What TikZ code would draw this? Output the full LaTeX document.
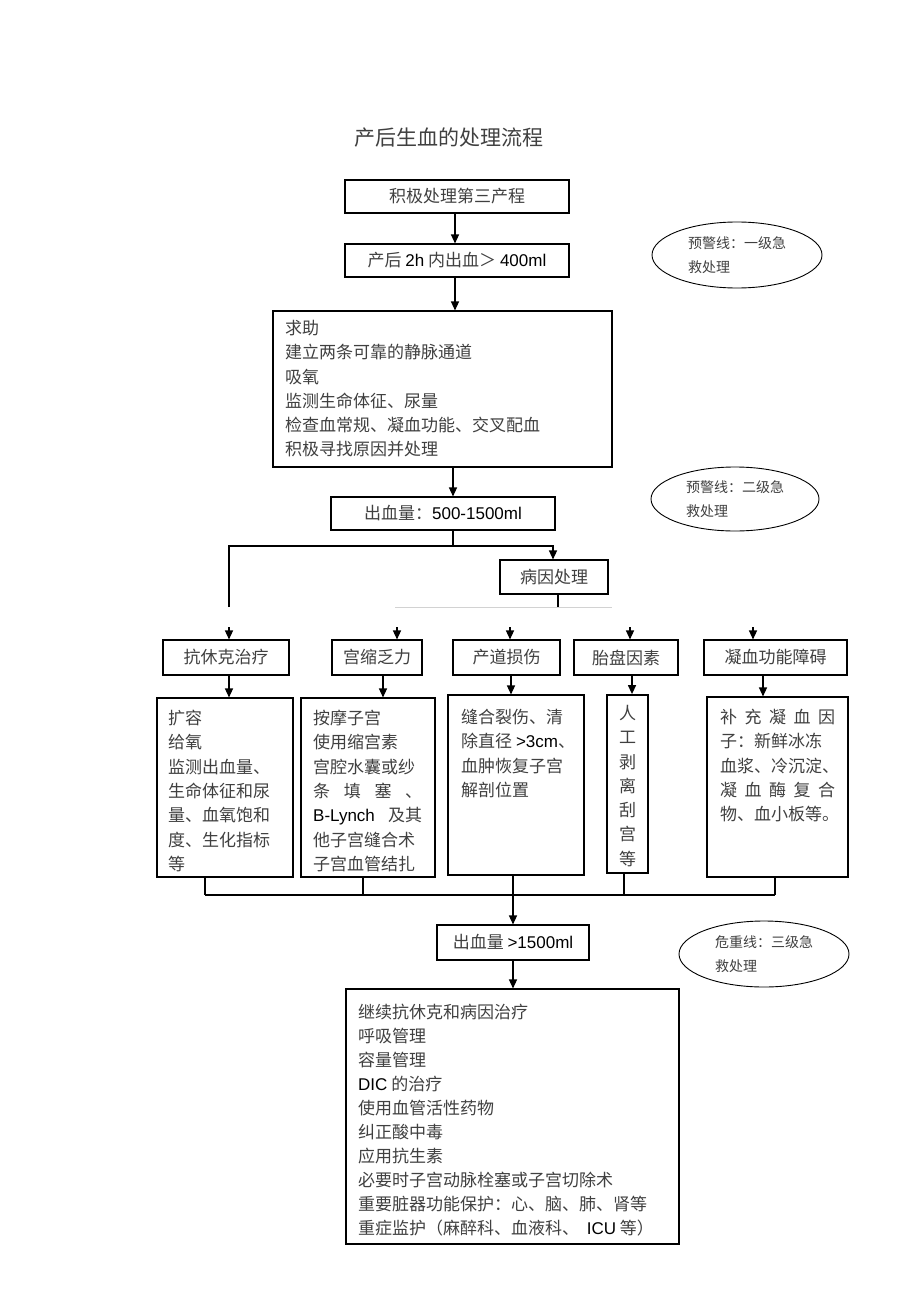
\documentclass[tikz,border=0pt]{standalone}
\usepackage{fontspec}
\setmainfont{Noto Sans CJK SC}
\newfontfamily\lat{Liberation Sans}
\usetikzlibrary{arrows.meta,shapes.geometric,calc}
\definecolor{txt}{HTML}{404040}
\newcommand{\La}[1]{{\lat\color{black}#1}}
\begin{document}
\begin{tikzpicture}[x=1pt,y=1pt,
  box/.style={draw=black, line width=1.1pt, inner sep=0pt, text=txt, font=\fontsize{17}{24}\selectfont},
  arr/.style={line width=1.3pt, -{Triangle[length=9pt,width=8pt]}},
  ln/.style={line width=1.1pt},
  oval/.style={ellipse, draw=black, line width=0.9pt, inner sep=0pt, text=txt, align=left, font=\fontsize{14}{23.5}\selectfont},
  blk/.style={anchor=north west, inner sep=0pt, text=txt, align=left, font=\fontsize{17}{24.3}\selectfont},
  vblk/.style={anchor=north, inner sep=0pt, text=txt, align=center, font=\fontsize{17}{24.3}\selectfont}
]
\useasboundingbox[fill=white] (0,0) rectangle (920,-1303);

\node[text=txt, font=\fontsize{21}{21}\selectfont] (title) at (449,-138) {产后生血的处理流程};

% top chain
\node[box, minimum width=224pt, minimum height=33pt] (b1) at (457,-196.5) {积极处理第三产程};
\node[box, minimum width=224pt, minimum height=33pt] (b2) at (457,-260.5) {产后 \La{2h} 内出血＞ \La{400ml}};
\node[box, minimum width=339pt, minimum height=156pt] (b3) at (442.5,-389) {};
\node[blk] (t3) at (285,-320) {求助\\建立两条可靠的静脉通道\\吸氧\\监测生命体征、尿量\\检查血常规、凝血功能、交叉配血\\积极寻找原因并处理};
\node[box, minimum width=224pt, minimum height=33pt] (b4) at (443,-513.5) {出血量：\La{500-1500ml}};
\node[box, minimum width=108pt, minimum height=34pt] (b5) at (554,-577) {病因处理};

% ellipses
\node[oval, minimum width=170pt, minimum height=66pt] (e1) at (737,-255) {预警线：一级急\\救处理};
\node[oval, minimum width=168pt, minimum height=64pt] (e2) at (735,-499) {预警线：二级急\\救处理};
\node[oval, minimum width=170pt, minimum height=66pt] (e3) at (764,-954) {危重线：三级急\\救处理};

% row 1
\node[box, minimum width=126pt, minimum height=35pt] (r1) at (226,-657.5) {抗休克治疗};
\node[box, minimum width=90pt, minimum height=35pt] (r2) at (377,-657.5) {宫缩乏力};
\node[box, minimum width=107pt, minimum height=35pt] (r3) at (506.5,-657.5) {产道损伤};
\node[box, minimum width=104pt, minimum height=35pt] (r4) at (626,-657.5) {胎盘因素};
\node[box, minimum width=143pt, minimum height=35pt] (r5) at (775.5,-657.5) {凝血功能障碍};

% row 2
\node[box, minimum width=136pt, minimum height=179pt] (s1) at (225,-787.5) {};
\node[box, minimum width=134pt, minimum height=179pt] (s2) at (368,-787.5) {};
\node[box, minimum width=136pt, minimum height=180pt] (s3) at (516,-785) {};
\node[box, line width=1.8pt, minimum width=41pt, minimum height=178pt] (s4) at (627.5,-784) {};
\node[box, minimum width=141pt, minimum height=180pt] (s5) at (777.5,-787) {};

\node[blk] (u1) at (168,-710) {扩容\\给氧\\监测出血量、\\生命体征和尿\\量、血氧饱和\\度、生化指标\\等};
\node[blk] (u2) at (313,-710) {按摩子宫\\使用缩宫素\\宫腔水囊或纱\\\makebox[109pt][s]{条\hfill 填\hfill 塞\hfill 、}\\\makebox[109pt][s]{\La{B-Lynch}\hfill 及其}\\他子宫缝合术\\子宫血管结扎};
\node[blk] (u3) at (461,-709) {缝合裂伤、清\\除直径 \La{>3cm}、\\血肿恢复子宫\\解剖位置};
\node[vblk] (u4) at (627.5,-705) {人\\工\\剥\\离\\刮\\宫\\等};
\node[blk] (u5) at (720,-709) {\makebox[115pt][s]{补\hfill 充\hfill 凝\hfill 血\hfill 因}\\子：新鲜冰冻\\血浆、冷沉淀、\\\makebox[115pt][s]{凝\hfill 血\hfill 酶\hfill 复\hfill 合}\\物、血小板等。};

% bottom
\node[box, minimum width=152pt, minimum height=35pt] (b6) at (513,-942.5) {出血量 \La{>1500ml}};
\node[box, minimum width=333pt, minimum height=255pt] (b7) at (512.5,-1116.5) {};
\node[blk, font=\fontsize{17}{24}\selectfont] (t7) at (358,-1004) {继续抗休克和病因治疗\\呼吸管理\\容量管理\\\La{DIC} 的治疗\\使用血管活性药物\\纠正酸中毒\\应用抗生素\\必要时子宫动脉栓塞或子宫切除术\\重要脏器功能保护：心、脑、肺、肾等\\重症监护（麻醉科、血液科、 \ \La{ICU} 等）};

% connectors top
\draw[arr] ([xshift=-2pt]b1.south) -- ([xshift=-2pt]b1.south |- b2.north);
\draw[arr] ([xshift=-2pt]b2.south) -- ([xshift=-2pt]b2.south |- b3.north);
\draw[arr] ([xshift=10.5pt]b3.south) -- ([xshift=10.5pt]b3.south |- b4.north);
\coordinate (j1) at (453,-546);
\coordinate (jl) at (229,-546);
\coordinate (jl2) at (229,-607);
\coordinate (g1) at (395,-607);
\coordinate (g2) at (612,-607);
\draw[ln] (b4.south -| j1) -- (j1);
\draw[ln] (jl2) -- (jl) -- (j1);
\draw[arr] (j1) -| ([xshift=-1pt]b5.north);
\draw[ln] ([xshift=4pt]b5.south) -- ([xshift=4pt]b5.south |- g1);
\draw[gray!35, line width=0.8pt] (g1) -- (g2);

% arrows into row 1
\draw[arr] ([shift={(3pt,12pt)}]r1.north) -- ([xshift=3pt]r1.north);
\draw[arr] ([shift={(20pt,12pt)}]r2.north) -- ([xshift=20pt]r2.north);
\draw[arr] ([shift={(3.5pt,12pt)}]r3.north) -- ([xshift=3.5pt]r3.north);
\draw[arr] ([shift={(4pt,12pt)}]r4.north) -- ([xshift=4pt]r4.north);
\draw[arr] ([shift={(-22.5pt,12pt)}]r5.north) -- ([xshift=-22.5pt]r5.north);

% row1 -> row2
\draw[arr] ([xshift=3pt]r1.south) -- ([xshift=3pt]r1.south |- s1.north);
\draw[arr] ([xshift=6pt]r2.south) -- ([xshift=6pt]r2.south |- s2.north);
\draw[arr] ([xshift=4.5pt]r3.south) -- ([xshift=4.5pt]r3.south |- s3.north);
\draw[arr] ([xshift=6pt]r4.south) -- ([xshift=6pt]r4.south |- s4.north);
\draw[arr] ([xshift=-12.5pt]r5.south) -- ([xshift=-12.5pt]r5.south |- s5.north);

% row2 -> collector
\coordinate (h1) at (205,-895);
\coordinate (h5) at (775,-895);
\coordinate (hm) at (513,-895);
\draw[ln] (h1) -- (h5);
\draw[ln] ([xshift=-20pt]s1.south) -- ([xshift=-20pt]s1.south |- h1);
\draw[ln] ([xshift=-5pt]s2.south) -- ([xshift=-5pt]s2.south |- h1);
\draw[ln] (s3.south -| hm) -- (hm);
\draw[ln] ([xshift=-3.5pt]s4.south) -- ([xshift=-3.5pt]s4.south |- h1);
\draw[ln] ([xshift=-2.5pt]s5.south) -- ([xshift=-2.5pt]s5.south |- h1);
\draw[arr] (hm) -- (hm |- b6.north);
\draw[arr] (b6.south -| hm) -- (b7.north -| hm);
\end{tikzpicture}
\end{document}
